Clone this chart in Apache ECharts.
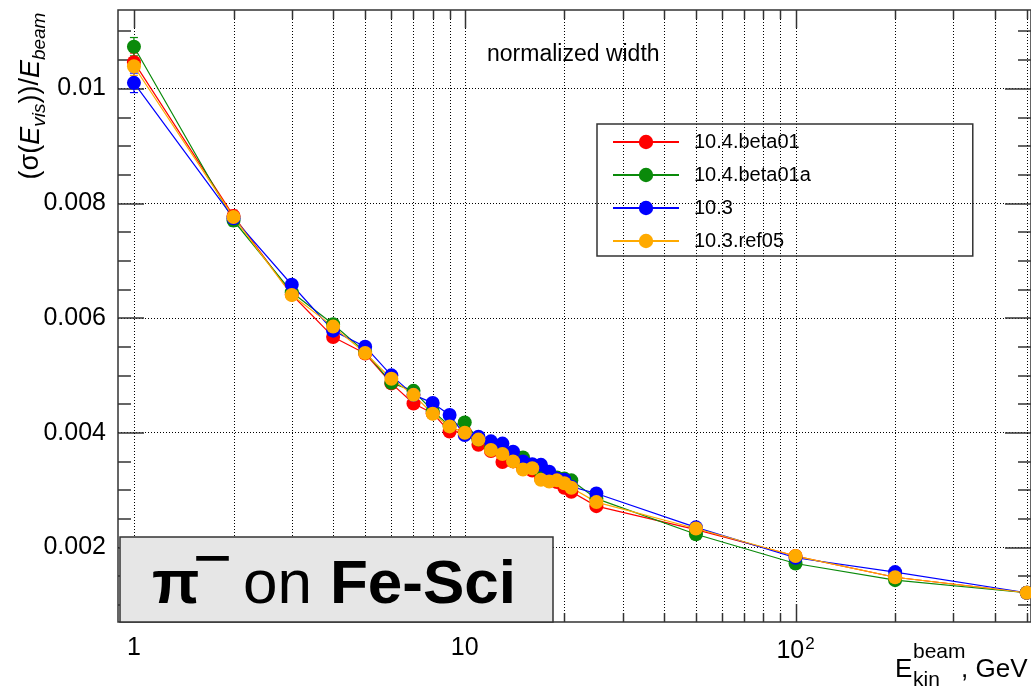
<!DOCTYPE html>
<html><head><meta charset="utf-8">
<script src="https://cdn.jsdelivr.net/npm/echarts@6/dist/echarts.min.js"></script>
<style>html,body{margin:0;padding:0;background:#fff}#c{width:1031px;height:688px}</style>
</head><body><div id="c"></div>
<script>
// ---- data ----
const energies = [1,2,3,4,5,6,7,8,9,10,11,12,13,14,15,16,17,18,19,20,21,25,50,100,200,500];
const v104beta01  = [0.01046,0.00778,0.00641,0.00567,0.00538,0.00486,0.00451,0.00434,0.00402,0.00401,0.00379,0.00368,0.00349,0.00350,0.00338,0.00334,0.00320,0.00316,0.00314,0.00304,0.00297,0.00272,0.00231,0.00185,0.00148,0.00121];
const v104beta01a = [0.01073,0.00770,0.00645,0.00589,0.00541,0.00487,0.00473,0.00438,0.00412,0.00418,0.00388,0.00373,0.00366,0.00357,0.00357,0.00340,0.00330,0.00326,0.00322,0.00320,0.00317,0.00285,0.00223,0.00172,0.00143,0.00121];
const v103        = [0.01010,0.00774,0.00658,0.00578,0.00550,0.00500,0.00466,0.00452,0.00431,0.00396,0.00393,0.00385,0.00381,0.00367,0.00350,0.00345,0.00344,0.00332,0.00320,0.00318,0.00306,0.00294,0.00235,0.00182,0.00157,0.00121];
const v103ref05   = [0.01039,0.00776,0.00640,0.00585,0.00539,0.00494,0.00466,0.00433,0.00411,0.00400,0.00388,0.00370,0.00363,0.00350,0.00336,0.00338,0.00318,0.00315,0.00317,0.00312,0.00304,0.00279,0.00233,0.00185,0.00148,0.00121];
// statistical errors (mostly hidden under markers)
const e104beta01  = [0.00016,0.00010,0.00008,0.00007,0.00006,0.00006,0.00005,0.00005,0.00005,0.00005,0.00005,0.00005,0.00005,0.00005,0.00005,0.00005,0.00005,0.00005,0.00005,0.00005,0.00005,0.00004,0.00004,0.00003,0.00003,0.00003];
const e104beta01a = [0.00016,0.00010,0.00008,0.00007,0.00006,0.00006,0.00005,0.00005,0.00005,0.00005,0.00005,0.00005,0.00005,0.00005,0.00005,0.00005,0.00005,0.00005,0.00005,0.00005,0.00005,0.00004,0.00004,0.00003,0.00003,0.00003];
const e103        = [0.00017,0.00010,0.00008,0.00007,0.00006,0.00006,0.00005,0.00005,0.00005,0.00005,0.00005,0.00005,0.00005,0.00005,0.00005,0.00005,0.00005,0.00005,0.00005,0.00005,0.00005,0.00004,0.00004,0.00003,0.00003,0.00003];
const e103ref05   = [0.00016,0.00010,0.00008,0.00007,0.00006,0.00006,0.00005,0.00005,0.00005,0.00005,0.00005,0.00005,0.00005,0.00005,0.00005,0.00005,0.00005,0.00005,0.00005,0.00005,0.00005,0.00004,0.00004,0.00003,0.00003,0.00003];
const seriesNames = ['10.4.beta01','10.4.beta01a','10.3','10.3.ref05'];
const seriesColors = ['#ff0000','#0a8a0a','#0000ff','#ffaa00'];
const xMajorTicks = [1,10,100];
const xMinorTicks = [2,3,4,5,6,7,8,9,20,30,40,50,60,70,80,90,200,300,400,500];
const yMajorTicks = [0.002,0.004,0.006,0.008,0.01];
const yMinorTicks = [0.001,0.0015,0.0025,0.003,0.0035,0.0045,0.005,0.0055,0.0065,0.007,0.0075,0.0085,0.009,0.0095,0.0105,0.011];
const X_MIN = 0.895, X_MAX = 515, Y_MIN = 0.0007, Y_MAX = 0.01137;
const FONT = 'Liberation Sans, Arial, Helvetica, sans-serif';

const chart = echarts.init(document.getElementById('c'), null, {renderer:'canvas'});

const allVals = [v104beta01, v104beta01a, v103, v103ref05];
const allErrs = [e104beta01, e104beta01a, e103, e103ref05];
function pairs(vals){ return energies.map((e,i)=>[e, vals[i]]); }
function errTriples(vals, errs){ return energies.map((e,i)=>[e, vals[i]-errs[i], vals[i]+errs[i]]); }

const tickData = xMajorTicks.map(v=>[v, Y_MIN, 1]).concat(xMinorTicks.map(v=>[v, Y_MIN, 0]));
const yCommon = {type:'value', min:Y_MIN, max:Y_MAX, gridIndex:0};

const errorSeries = seriesNames.map((n,i)=>({
  type:'custom', name:'err '+n, xAxisIndex:0, yAxisIndex:0, z:2, silent:true,
  data:errTriples(allVals[i], allErrs[i]), encode:{x:0, y:[1,2]},
  renderItem:function(params, api){
    const lo = api.coord([api.value(0), api.value(1)]);
    const hi = api.coord([api.value(0), api.value(2)]);
    const c = seriesColors[i];
    return {type:'group', children:[
      {type:'line', shape:{x1:lo[0],y1:lo[1],x2:hi[0],y2:hi[1]}, style:{stroke:c, lineWidth:1.2}},
      {type:'line', shape:{x1:lo[0]-4,y1:lo[1],x2:lo[0]+4,y2:lo[1]}, style:{stroke:c, lineWidth:1.2}},
      {type:'line', shape:{x1:hi[0]-4,y1:hi[1],x2:hi[0]+4,y2:hi[1]}, style:{stroke:c, lineWidth:1.2}}
    ]};
  }
}));

const option = {
  animation:false,
  backgroundColor:'#fff',
  grid:{left:118, right:0, top:10, bottom:66, show:true, borderColor:'#333', borderWidth:1.5, backgroundColor:'transparent', containLabel:false, outerBoundsMode:'none'},
  xAxis:[
    {type:'log', logBase:10, min:X_MIN, max:X_MAX, position:'bottom',
     axisLine:{show:false}, axisTick:{show:false}, splitLine:{show:false}, minorTick:{show:false},
     axisLabel:{show:true, fontSize:25, color:'#000', fontFamily:FONT, margin:14, showMinLabel:false, showMaxLabel:false,
       formatter:function(v){ const l=Math.log10(v); const r=Math.round(l); if(Math.abs(l-r)>1e-6) return ''; if(r===0) return '{n|1}'; if(r===1) return '{n|10}'; return '{n|10}{s|'+r+'}'; },
       rich:{n:{fontSize:25,fontFamily:FONT,color:'#000'}, s:{fontSize:17,fontFamily:FONT,color:'#000',padding:[0,0,14,1]}}}
    }
  ],
  yAxis:[
    Object.assign({}, yCommon, {position:'left',
      axisLine:{show:false},
      axisTick:{show:true, inside:true, length:26, customValues:yMajorTicks, lineStyle:{color:'#333', width:1.5}},
      axisLabel:{show:true, customValues:yMajorTicks, fontSize:25, color:'#000', fontFamily:FONT, margin:12,
        formatter:function(v){ return String(Math.round(v*1000)/1000); }},
      splitLine:{show:true, lineStyle:{color:'#000', width:1, type:[1,2]}}}),
    Object.assign({}, yCommon, {position:'left',
      axisLine:{show:false}, axisLabel:{show:false}, splitLine:{show:false},
      axisTick:{show:true, inside:true, length:13, customValues:yMinorTicks, lineStyle:{color:'#333', width:1.5}}}),
    Object.assign({}, yCommon, {position:'right',
      axisLine:{show:false}, axisLabel:{show:false}, splitLine:{show:false},
      axisTick:{show:true, inside:true, length:26, customValues:yMajorTicks, lineStyle:{color:'#333', width:1.5}}}),
    Object.assign({}, yCommon, {position:'right',
      axisLine:{show:false}, axisLabel:{show:false}, splitLine:{show:false},
      axisTick:{show:true, inside:true, length:13, customValues:yMinorTicks, lineStyle:{color:'#333', width:1.5}}})
  ],
  legend:{
    show:true, orient:'vertical', left:597, top:124,
    padding:[8,162,5,15], itemGap:13, itemWidth:66, itemHeight:18,
    borderColor:'#333', borderWidth:1.5, backgroundColor:'transparent',
    textStyle:{fontSize:20, color:'#000', fontFamily:FONT, padding:[0,0,0,10]},
    data:seriesNames
  },
  series:[
    {type:'custom', name:'ticks', xAxisIndex:0, yAxisIndex:0, z:1, silent:true,
     data:tickData, encode:{x:0, y:1},
     renderItem:function(params, api){
       const cs = params.coordSys;
       const x = Math.round(api.coord([api.value(0), Y_MIN])[0]) + 0.5;
       const top = cs.y, bot = cs.y + cs.height;
       const len = api.value(2) === 1 ? 18 : 9;
       return {type:'group', children:[
         {type:'line', shape:{x1:x,y1:top,x2:x,y2:bot}, style:{stroke:'#000', lineWidth:1, lineDash:[1,2]}},
         {type:'line', shape:{x1:x,y1:bot,x2:x,y2:bot-len}, style:{stroke:'#333', lineWidth:1.5}},
         {type:'line', shape:{x1:x,y1:top,x2:x,y2:top+len}, style:{stroke:'#333', lineWidth:1.5}}
       ]};
     }}
  ].concat(errorSeries).concat(seriesNames.map((n,i)=>({
    type:'line', name:n, xAxisIndex:0, yAxisIndex:0, z:3,
    data:pairs(allVals[i]), symbol:'circle', symbolSize:14, showSymbol:true, showAllSymbol:true,
    itemStyle:{color:seriesColors[i]}, lineStyle:{color:seriesColors[i], width:1.2}, emphasis:{disabled:true}
  }))),
  graphic:[
    {type:'text', x:487, y:55, z:50, style:{text:'normalized width', fontSize:23, fontFamily:FONT, fill:'#000', textAlign:'left', textVerticalAlign:'middle'}},
    {type:'text', x:31, y:96, rotation:Math.PI/2, z:50, style:{
      text:'{n|(σ(}{i|E}{s|vis}{n|))/}{i|E}{s|beam}', textAlign:'center', textVerticalAlign:'middle',
      rich:{n:{fontSize:27,fontFamily:FONT,fill:'#000',lineHeight:36}, i:{fontSize:27,fontFamily:FONT,fontStyle:'italic',fill:'#000',lineHeight:36}, s:{fontSize:19,fontFamily:FONT,fontStyle:'italic',fill:'#000',lineHeight:19,verticalAlign:'bottom'}}}},
    {type:'text', x:895, y:670, z:50, style:{text:'E', fontSize:26, fontFamily:FONT, fill:'#000', textAlign:'left', textVerticalAlign:'middle'}},
    {type:'text', x:913, y:652, z:50, style:{text:'beam', fontSize:21, fontFamily:FONT, fill:'#000', textAlign:'left', textVerticalAlign:'middle'}},
    {type:'text', x:913, y:680, z:50, style:{text:'kin', fontSize:21, fontFamily:FONT, fill:'#000', textAlign:'left', textVerticalAlign:'middle'}},
    {type:'text', x:961, y:670, z:50, style:{text:', GeV', fontSize:26, fontFamily:FONT, fill:'#000', textAlign:'left', textVerticalAlign:'middle'}},
    {type:'rect', z:60, shape:{x:120, y:537, width:433, height:85}, style:{fill:'#e6e6e6', stroke:'#333', lineWidth:1.5}},
    {type:'text', x:152, y:586, z:61, style:{text:'π', fontSize:62, fontWeight:'bold', fontFamily:FONT, fill:'#000', textAlign:'left', textVerticalAlign:'middle'}},
    {type:'text', x:197, y:558, z:61, style:{text:'—', fontSize:31, fontWeight:'bold', fontFamily:FONT, fill:'#000', stroke:'#000', lineWidth:1.6, textAlign:'left', textVerticalAlign:'middle'}},
    {type:'text', x:243, y:586, z:61, style:{text:'on', fontSize:62, fontFamily:FONT, fill:'#000', textAlign:'left', textVerticalAlign:'middle'}},
    {type:'text', x:330, y:586, z:61, style:{text:'Fe-Sci', fontSize:62, fontWeight:'bold', fontFamily:FONT, fill:'#000', textAlign:'left', textVerticalAlign:'middle'}}
  ]
};
chart.setOption(option);
</script></body></html>
